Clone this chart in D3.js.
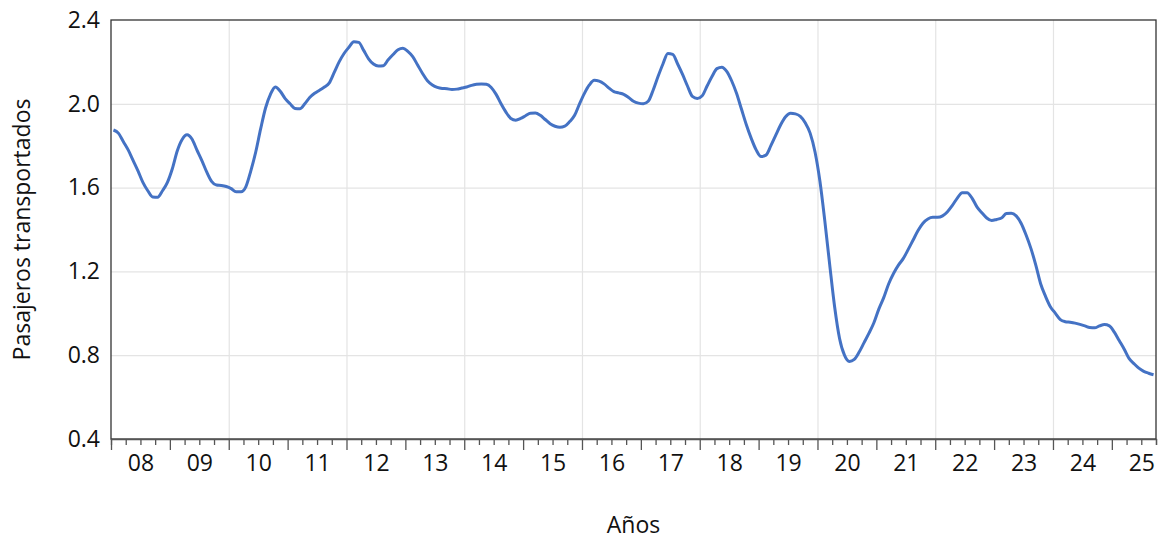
<!DOCTYPE html>
<html>
<head>
<meta charset="utf-8">
<script src="https://cdn.jsdelivr.net/npm/d3@7"></script>
<style>
  body { margin: 0; background: #fff; }
  svg { display: block; font-family: "Open Sans", sans-serif; }
</style>
</head>
<body>
<div id="chart"></div>
<script>
// Monthly series, Jan 2008 .. Sep 2025
const startYear = 2008;
const pasajeros = [
  // 2008
  1.875, 1.86, 1.82, 1.78, 1.73, 1.68, 1.625, 1.585, 1.555, 1.554, 1.585, 1.625,
  // 2009
  1.69, 1.775, 1.83, 1.852, 1.832, 1.78, 1.73, 1.675, 1.63, 1.612, 1.61, 1.605,
  // 2010
  1.595, 1.58, 1.58, 1.605, 1.68, 1.77, 1.88, 1.98, 2.045, 2.08, 2.06, 2.025,
  // 2011
  2.0, 1.978, 1.976, 2.0, 2.03, 2.05, 2.065, 2.08, 2.1, 2.15, 2.2, 2.24,
  // 2012
  2.27, 2.296, 2.293, 2.255, 2.215, 2.19, 2.18, 2.182, 2.21, 2.235, 2.258, 2.265,
  // 2013
  2.25, 2.225, 2.185, 2.145, 2.11, 2.09, 2.078, 2.073, 2.072, 2.068, 2.07, 2.075,
  // 2014
  2.08, 2.088, 2.093, 2.095, 2.093, 2.078, 2.045, 2.0, 1.96, 1.93, 1.922, 1.93,
  // 2015
  1.943, 1.955, 1.956, 1.945, 1.925, 1.905, 1.893, 1.888, 1.893, 1.915, 1.945, 2.0,
  // 2016
  2.05, 2.09, 2.112, 2.108, 2.095, 2.075, 2.058, 2.052, 2.045, 2.03, 2.012, 2.003,
  // 2017
  2.0, 2.012, 2.065, 2.13, 2.19, 2.24, 2.236, 2.19, 2.14, 2.085, 2.035, 2.025,
  // 2018
  2.038, 2.085, 2.13, 2.168, 2.175, 2.155, 2.11, 2.05, 1.975, 1.9, 1.835, 1.78,
  // 2019
  1.748, 1.755, 1.8, 1.85, 1.9, 1.938, 1.955, 1.952, 1.94, 1.91, 1.86, 1.77,
  // 2020
  1.63, 1.44, 1.23, 1.03, 0.88, 0.8, 0.77, 0.78, 0.815, 0.86, 0.905, 0.955,
  // 2021
  1.02, 1.075, 1.14, 1.19, 1.23, 1.262, 1.305, 1.35, 1.395, 1.43, 1.45, 1.458,
  // 2022
  1.458, 1.465, 1.485, 1.515, 1.55, 1.576, 1.576, 1.55, 1.508, 1.48, 1.455, 1.443,
  // 2023
  1.448, 1.455, 1.476, 1.478, 1.465, 1.43, 1.375, 1.31, 1.23, 1.14, 1.08, 1.03,
  // 2024
  1.0, 0.97, 0.96, 0.957, 0.953, 0.947, 0.94, 0.932, 0.931, 0.94, 0.946, 0.94,
  // 2025
  0.91, 0.87, 0.83, 0.785, 0.76, 0.738, 0.723, 0.714, 0.707
];
const yearLabels = ["08", "09", "10", "11", "12", "13", "14", "15", "16",
                    "17", "18", "19", "20", "21", "22", "23", "24", "25"];
const yTicks = [0.4, 0.8, 1.2, 1.6, 2.0, 2.4];
const gridYears = [2010, 2012, 2014, 2016, 2018, 2020, 2022, 2024];

const width = 1162, height = 541;
const m = { left: 111, right: 1156, top: 20, bottom: 439 };
const axisEnd = 2025.75;
const fontSize = 23;

const svg = d3.select("#chart").append("svg")
  .attr("width", width)
  .attr("height", height);

const x = d3.scaleLinear().domain([startYear, axisEnd]).range([m.left, m.right]);
const y = d3.scaleLinear().domain([0.4, 2.4]).range([m.bottom, m.top]);

// grid
svg.append("g")
  .attr("transform", `translate(${m.left},0)`)
  .call(d3.axisLeft(y).tickValues([0.8, 1.2, 1.6, 2.0]).tickSize(-(m.right - m.left)).tickFormat(""))
  .call(g => g.select(".domain").remove())
  .call(g => g.selectAll("line").attr("stroke", "#e4e4e4").attr("stroke-width", 1.2));

svg.append("g")
  .attr("transform", `translate(0,${m.bottom})`)
  .call(d3.axisBottom(x).tickValues(gridYears).tickSize(-(m.bottom - m.top)).tickFormat(""))
  .call(g => g.select(".domain").remove())
  .call(g => g.selectAll("line").attr("stroke", "#e4e4e4").attr("stroke-width", 1.2));

// frame
svg.append("rect")
  .attr("x", m.left).attr("y", m.top)
  .attr("width", m.right - m.left).attr("height", m.bottom - m.top)
  .attr("fill", "none")
  .attr("stroke", "#333")
  .attr("stroke-width", 1.3);

// y labels
svg.append("g")
  .attr("transform", `translate(${m.left},0)`)
  .call(d3.axisLeft(y).tickValues(yTicks).tickSize(0).tickPadding(11).tickFormat(d3.format(".1f")))
  .call(g => g.select(".domain").remove())
  .call(g => g.selectAll("text").attr("font-size", fontSize).attr("fill", "#111").attr("font-family", "Open Sans"));

// x ticks: quarters (minor) and years (major)
const quarters = d3.range(0, (axisEnd - startYear) * 4 + 1).map(q => startYear + q / 4);
const years = d3.range(startYear, 2026);

svg.append("g")
  .attr("transform", `translate(0,${m.bottom})`)
  .call(d3.axisBottom(x).tickValues(quarters.filter(q => q % 1 !== 0)).tickSize(6).tickFormat(""))
  .call(g => g.selectAll("line").attr("stroke", "#555").attr("stroke-width", 1.3))
  .call(g => g.select(".domain").attr("stroke", "#555").attr("stroke-width", 1.3));

svg.append("g")
  .attr("transform", `translate(0,${m.bottom})`)
  .call(d3.axisBottom(x).tickValues(years).tickSize(11).tickFormat(""))
  .call(g => g.selectAll("line").attr("stroke", "#555").attr("stroke-width", 1.3))
  .call(g => g.select(".domain").remove());

svg.append("g")
  .attr("transform", `translate(0,${m.bottom})`)
  .call(d3.axisBottom(x).tickValues(years.map(d => d + 0.5))
    .tickSize(0).tickPadding(16).tickFormat((d, i) => yearLabels[i]))
  .call(g => g.select(".domain").remove())
  .call(g => g.selectAll("text").attr("font-size", fontSize).attr("fill", "#111").attr("font-family", "Open Sans"));

// line
const line = d3.line()
  .x((d, i) => x(startYear + (i + 0.5) / 12))
  .y(d => y(d))
  .curve(d3.curveMonotoneX);

svg.append("path")
  .datum(pasajeros)
  .attr("fill", "none")
  .attr("stroke", "#4472c4")
  .attr("stroke-width", 3)
  .attr("stroke-linejoin", "round")
  .attr("d", line);

// axis titles
svg.append("text")
  .attr("x", (m.left + m.right) / 2)
  .attr("y", 533)
  .attr("text-anchor", "middle")
  .attr("font-size", fontSize)
  .attr("fill", "#111")
  .text("Años");

svg.append("text")
  .attr("transform", `translate(30,${(m.top + m.bottom) / 2}) rotate(-90)`)
  .attr("text-anchor", "middle")
  .attr("font-size", fontSize)
  .attr("fill", "#111")
  .text("Pasajeros transportados");
</script>
</body>
</html>
